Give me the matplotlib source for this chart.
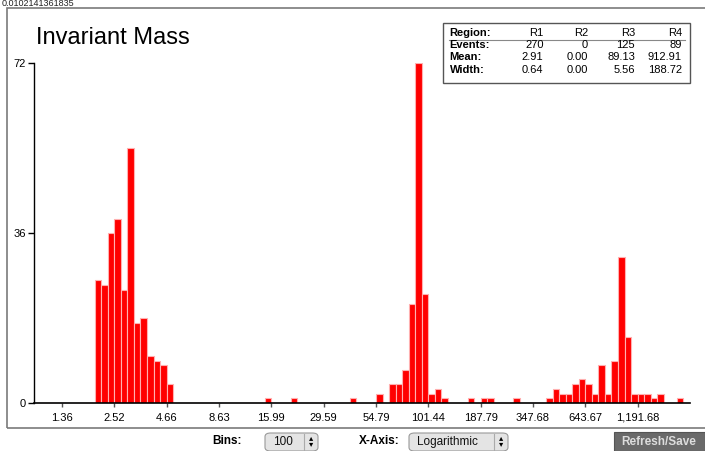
import matplotlib
matplotlib.use('Agg')
import matplotlib.pyplot as plt
import numpy as np
from matplotlib.patches import Rectangle, FancyBboxPatch
from matplotlib.lines import Line2D

plt.rcParams['font.family'] = ['Liberation Sans', 'DejaVu Sans']

# histogram with 100 logarithmic bins
n_bins = 100
mass_min = 1.0
mass_max = 2208.0
filled_bins = [9, 10, 11, 12, 13, 14, 15, 16, 17, 18, 19, 20,
               35, 39, 48, 52, 54, 55, 56, 57, 58, 59, 60, 61, 62,
               66, 68, 69, 73, 78, 79, 80, 81, 82, 83, 84, 85, 86, 87,
               88, 89, 90, 91, 92, 93, 94, 95, 98]
bin_counts = [26, 25, 36, 39, 24, 54, 17, 18, 10, 9, 8, 4,
              1, 1, 1, 2, 4, 4, 7, 21, 72, 23, 2, 3, 1,
              1, 1, 1, 1, 1, 3, 2, 2, 4, 5, 4, 2, 8, 2,
              9, 31, 14, 2, 2, 2, 1, 2, 1]
tick_labels = ['1.36', '2.52', '4.66', '8.63', '15.99', '29.59', '54.79',
               '101.44', '187.79', '347.68', '643.67', '1,191.68']
y_ticks = [0, 36, 72]

# stats box
regions = ['R1', 'R2', 'R3', 'R4']
events = ['270', '0', '125', '89']
means = ['2.91', '0.00', '89.13', '912.91']
widths = ['0.64', '0.00', '5.56', '188.72']

W, H = 705, 451
fig = plt.figure(figsize=(W / 100, H / 100), dpi=100)


def fx(px):
    return px / W


def fy(py):
    return 1 - py / H


# outer frame
fig.add_artist(Rectangle((fx(7), fy(428)), fx(720), fy(8) - fy(428),
                         transform=fig.transFigure, fill=False,
                         edgecolor='#7a7a7a', linewidth=1.2))
fig.text(fx(2), fy(6.5), '0.0102141361835', fontsize=6.5, va='baseline', color='#222222')

ax = fig.add_axes([fx(34), fy(403), fx(690) - fx(34), fy(63) - fy(403)])
edges = np.geomspace(mass_min, mass_max, n_bins + 1)
counts = np.zeros(n_bins)
counts[filled_bins] = bin_counts
ax.bar(edges[:-1], counts, width=np.diff(edges), align='edge',
       color='#ff0000', edgecolor='#ffb0b0', linewidth=0.8)
ax.set_xscale('log')
pad = np.exp(-0.27 * np.log(mass_max / mass_min) / n_bins)
ax.set_xlim(mass_min * pad, mass_max)
ax.set_ylim(0, 72)

ax.set_xticks(edges[4:n_bins:8])
ax.set_xticklabels(tick_labels)
ax.xaxis.set_minor_locator(matplotlib.ticker.NullLocator())
ax.set_yticks(y_ticks)
ax.tick_params(axis='x', length=3, width=1, color='#555555', labelsize=8, pad=4)
ax.tick_params(axis='y', length=4, width=1, labelsize=8, pad=2)
for s in ['top', 'right']:
    ax.spines[s].set_visible(False)
ax.spines['left'].set_linewidth(1)
ax.spines['bottom'].set_linewidth(1.2)
ax.patch.set_alpha(0)

fig.text(fx(36), fy(44), 'Invariant Mass', fontsize=17, va='baseline')

# stats table
fig.add_artist(Rectangle((fx(443), fy(83)), fx(690) - fx(443), fy(23) - fy(83),
                         transform=fig.transFigure, facecolor='white',
                         edgecolor='#555555', linewidth=1))
fig.add_artist(Line2D([fx(449), fx(685)], [fy(39.5), fy(39.5)],
                      transform=fig.transFigure, color='#888888', linewidth=0.8))
row_y = [33, 45.3, 57.5, 69.8]
col_x = [543.5, 588, 635, 682]
rows = [('Region:', regions), ('Events:', events), ('Mean:', means), ('Width:', widths)]
for (name, vals), y in zip(rows, row_y):
    fig.text(fx(449.5), fy(y), name, fontsize=8, fontweight='bold', va='center')
    for v, x in zip(vals, col_x):
        fig.text(fx(x), fy(y), v, fontsize=8, va='center', ha='right')

# controls below chart
fig.text(fx(242), fy(441), 'Bins:', fontsize=8.5, fontweight='bold', ha='right', va='center')
fig.text(fx(400), fy(441), 'X-Axis:', fontsize=8.5, fontweight='bold', ha='right', va='center')
for x0, x1, label in [(265, 318, '100'), (409, 508, 'Logarithmic')]:
    fig.add_artist(FancyBboxPatch((fx(x0), fy(451)), fx(x1) - fx(x0), fy(433) - fy(451),
                                  boxstyle='round,pad=0,rounding_size=0.008',
                                  transform=fig.transFigure, facecolor='#e4e4e4',
                                  edgecolor='#9a9a9a', linewidth=0.8))
    fig.add_artist(Line2D([fx(x1 - 14), fx(x1 - 14)], [fy(434), fy(451)],
                          transform=fig.transFigure, color='#aaaaaa', linewidth=0.8))
    fig.text(fx(x0 + 8), fy(442), label, fontsize=8.5, va='center', color='#111111')
    fig.text(fx(x1 - 7), fy(439), '\u25b4', fontsize=6, ha='center', va='center')
    fig.text(fx(x1 - 7), fy(445), '\u25be', fontsize=6, ha='center', va='center')

fig.add_artist(Rectangle((fx(614), fy(451)), fx(705) - fx(614), fy(432) - fy(451),
                         transform=fig.transFigure, facecolor='#6a6a6a',
                         edgecolor='#555555', linewidth=0.8))
fig.text(fx(659), fy(442), 'Refresh/Save', fontsize=8.5, fontweight='bold',
         ha='center', va='center', color='#dddddd')

fig.savefig('out.png', dpi=100)
